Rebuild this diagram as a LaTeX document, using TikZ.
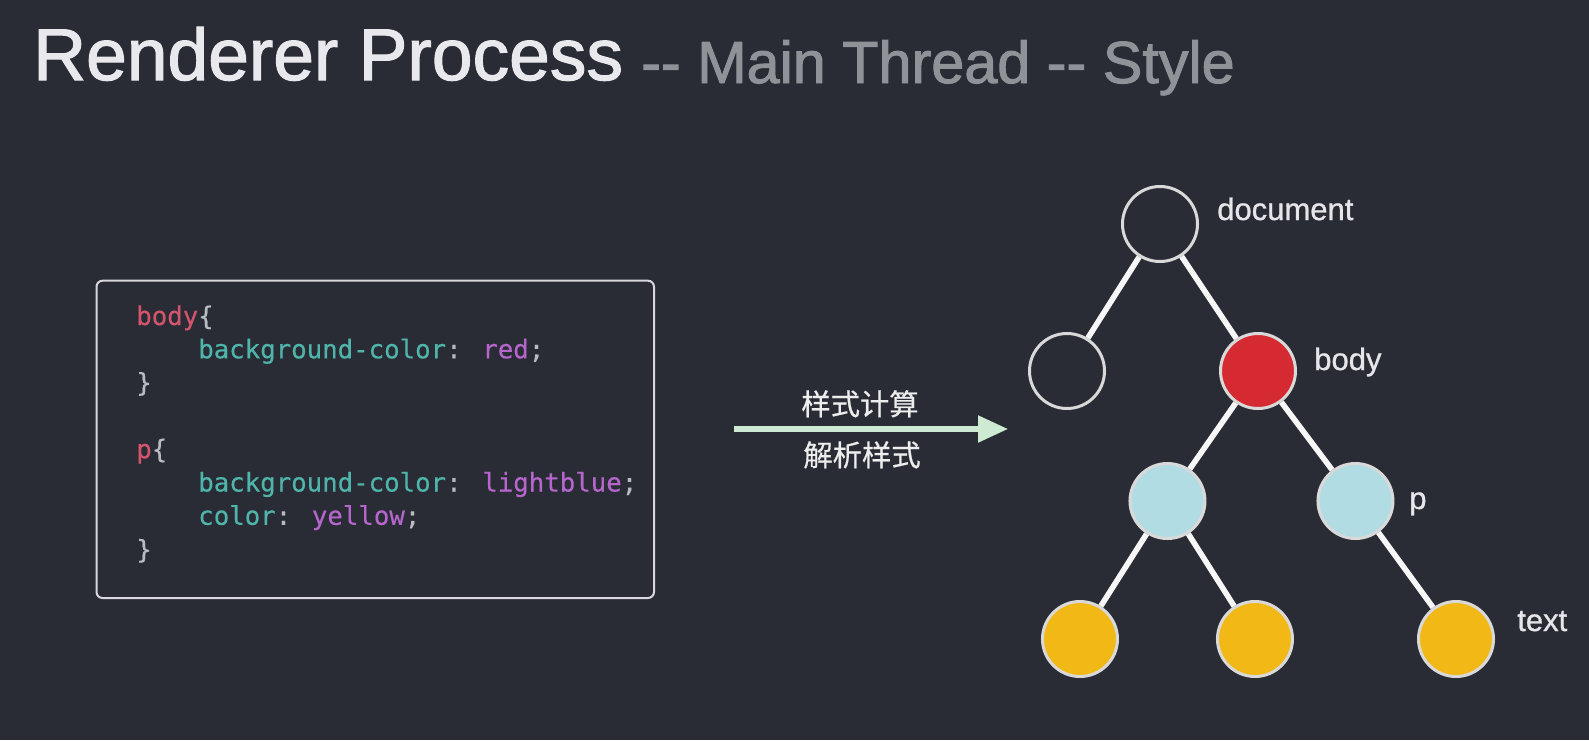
\documentclass[tikz,border=0pt]{standalone}
\usepackage{fontspec}
\usepackage{tikz}
\usetikzlibrary{arrows.meta}

\newfontfamily\headfont[FakeBold=1.6]{Liberation Sans}
\newfontfamily\labelfont[FakeBold=0.9]{Liberation Sans}
\newfontfamily\codefont[FakeBold=0.3]{DejaVu Sans Mono}
\newfontfamily\cjk[FakeBold=0.6]{Noto Sans CJK SC}

\definecolor{bgcol}{HTML}{292C35}
\definecolor{titlewhite}{HTML}{E9E9ED}
\definecolor{titlegray}{HTML}{8F9297}
\definecolor{boxborder}{HTML}{D8D8DC}
\definecolor{selcol}{HTML}{D2556D}
\definecolor{propcol}{HTML}{4FB4AA}
\definecolor{valcol}{HTML}{B466CB}
\definecolor{punctcol}{HTML}{B9BBC0}
\definecolor{arrowgreen}{HTML}{CDEBD3}
\definecolor{cjkwhite}{HTML}{EDEDED}
\definecolor{ringgray}{HTML}{D9D9D9}
\definecolor{bodyred}{HTML}{D52A31}
\definecolor{pblue}{HTML}{B1DCE3}
\definecolor{textyellow}{HTML}{F1B816}
\definecolor{edgewhite}{HTML}{F7F7F7}
\definecolor{labelwhite}{HTML}{E6E6EA}

\newcommand\dashpair{\mbox{-}\mbox{-}}

\begin{document}
\begin{tikzpicture}[x=0.75pt, y=-0.75pt,
    titletext/.style={anchor=base west, inner sep=0pt, text=titlewhite,
      font=\headfont\fontsize{54.9pt}{60pt}\selectfont},
    subtext/.style={anchor=base west, inner sep=0pt, text=titlegray,
      font=\headfont\fontsize{44.5pt}{50pt}\selectfont},
    codebox/.style={draw=boxborder, line width=1.5pt, rounded corners=4.5pt},
    codeline/.style={anchor=base west, inner sep=0pt, text=punctcol,
      font=\codefont\fontsize{19.3pt}{23pt}\selectfont},
    cjklabel/.style={anchor=base, inner sep=0pt, text=cjkwhite,
      font=\cjk\fontsize{22pt}{26pt}\selectfont},
    flow/.style={draw=arrowgreen, line width=3.9pt,
      -{Triangle[length=22.5pt, width=19.5pt]}},
    treenode/.style={circle, draw=ringgray, line width=2.25pt,
      minimum size=56.25pt, inner sep=0pt},
    plainnode/.style={treenode},
    rednode/.style={treenode, fill=bodyred},
    bluenode/.style={treenode, fill=pblue},
    yellownode/.style={treenode, fill=textyellow},
    nodelabel/.style={anchor=base west, inner sep=0pt, text=labelwhite,
      font=\labelfont\fontsize{23.25pt}{28pt}\selectfont},
    edge from parent/.style={draw=edgewhite, line width=4.2pt},
    level 1/.style={level distance=110.25pt, sibling distance=143.25pt},
    level 2/.style={level distance=97.5pt, sibling distance=141pt},
    level 3/.style={level distance=103.5pt, sibling distance=131.25pt}]

  % background and page size
  \fill[bgcol] (0,0) rectangle (1589,740);
  \useasboundingbox (0,0) rectangle (1589,740);

  % title
  \node[titletext] (title) at (33,80) {Renderer Process};
  \node[subtext] (subtitle) at (641,83) {\dashpair{} Main Thread \dashpair{} Style};

  % css source
  \draw[codebox] (96.5,280.7) rectangle (654,598);
  \node[codeline] (css1) at (136,325) {\textcolor{selcol}{body}\{};
  \node[codeline] (css2) at (198,358.3) {\textcolor{propcol}{background-color}: \textcolor{valcol}{red};};
  \node[codeline] (css3) at (136,391.6) {\}};
  \node[codeline] (css4) at (136,458.2) {\textcolor{selcol}{p}\{};
  \node[codeline] (css5) at (198,491.5) {\textcolor{propcol}{background-color}: \textcolor{valcol}{lightblue};};
  \node[codeline] (css6) at (198,524.8) {\textcolor{propcol}{color}: \textcolor{valcol}{yellow};};
  \node[codeline] (css7) at (136,558.5) {\}};

  % arrow
  \coordinate (arrowtail) at (734,429);
  \coordinate (arrowtip) at (1008,429);
  \draw[flow] (arrowtail) -- (arrowtip);
  \node[cjklabel] (calc) at (860,415) {样式计算};
  \node[cjklabel] (parse) at (862,466) {解析样式};

  % dom tree
  \node[plainnode] (doc) at (1160,224) {}
    child[xshift=1.875pt] { node[plainnode] (leftnode) {} }
    child[xshift=1.875pt] {
      node[rednode] (body) {}
      child[xshift=2.6pt] {
        node[bluenode] (pleft) {}
        child { node[yellownode] (textleft) {} }
        child { node[yellownode] (textmid) {} }
      }
      child[xshift=2.6pt] {
        node[bluenode] (pright) {}
        child[xshift=75.4pt] { node[yellownode] (textright) {} }
      }
    };

  \node[nodelabel] (doclabel) at (1217,220) {document};
  \node[nodelabel] (bodylabel) at (1314,370) {body};
  \node[nodelabel] (plabel) at (1409,509) {p};
  \node[nodelabel] (textlabel) at (1517,631) {text};
\end{tikzpicture}
\end{document}
